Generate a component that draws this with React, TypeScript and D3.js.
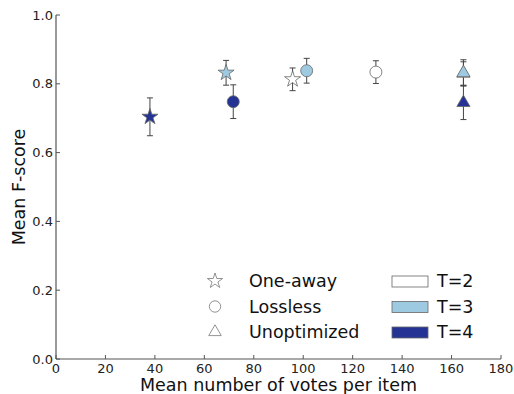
import * as d3 from "d3";

const tLabels = ["T=2", "T=3", "T=4"];
const tColors = ["#ffffff", "#9ecae1", "#253494"];
const methods = ["One-away", "Lossless", "Unoptimized"];

// one entry per point
const pointMethod = ["One-away", "One-away", "One-away", "Lossless", "Lossless", "Lossless", "Unoptimized", "Unoptimized", "Unoptimized"];
const pointT = ["T=2", "T=3", "T=4", "T=2", "T=3", "T=4", "T=2", "T=3", "T=4"];
const meanVotes = [95.7, 68.8, 38.0, 129.4, 101.4, 71.7, 164.8, 164.8, 164.8];
const meanF = [0.813, 0.832, 0.704, 0.834, 0.838, 0.748, 0.83, 0.832, 0.745];
const fErr = [0.033, 0.036, 0.055, 0.033, 0.036, 0.049, 0.034, 0.038, 0.049];

const xTicks = [0, 20, 40, 60, 80, 100, 120, 140, 160, 180];
const yTicks = [0, 0.2, 0.4, 0.6, 0.8, 1.0];

const W = 514;
const H = 394;
const margin = { top: 15, right: 13, bottom: 35, left: 56 };
const font = "DejaVu Sans, sans-serif";
const axisColor = "#555";

const symbolFor = (m: string) =>
  m === "One-away" ? d3.symbolStar : m === "Lossless" ? d3.symbolCircle : d3.symbolTriangle;
const sizeFor = (m: string) => (m === "One-away" ? 80 : m === "Lossless" ? 113 : 75);

export default function App() {
  const x = d3.scaleLinear().domain([0, 180]).range([margin.left, W - margin.right]);
  const y = d3.scaleLinear().domain([0, 1]).range([H - margin.bottom, margin.top]);
  const color = d3.scaleOrdinal<string, string>().domain(tLabels).range(tColors);

  const points = meanVotes.map((v, i) => ({
    m: pointMethod[i],
    t: pointT[i],
    v,
    f: meanF[i],
    e: fErr[i],
  }));

  const legendY = d3.scalePoint().domain(methods).range([281, 332]);

  return (
    <svg width={W} height={H} style={{ position: "absolute", left: 0, top: 0, background: "#fff" }} fontFamily={font}>
      {/* axes */}
      <line x1={x(0)} x2={x(0)} y1={y(0)} y2={y(1)} stroke={axisColor} strokeWidth={1.2} />
      <line x1={x(0)} x2={x(180)} y1={y(0)} y2={y(0)} stroke={axisColor} strokeWidth={1.2} />
      {xTicks.map((t) => (
        <g key={"x" + t}>
          <line x1={x(t)} x2={x(t)} y1={y(0)} y2={y(0) - 4} stroke={axisColor} />
          <text x={x(t)} y={y(0) + 14} textAnchor="middle" fontSize={13} fill="#222">
            {t}
          </text>
        </g>
      ))}
      {yTicks.map((t) => (
        <g key={"y" + t}>
          <line x1={x(0)} x2={x(0) + 4} y1={y(t)} y2={y(t)} stroke={axisColor} />
          <text x={x(0) - 3} y={y(t) + 4.5} textAnchor="end" fontSize={13} fill="#222">
            {t.toFixed(1)}
          </text>
        </g>
      ))}
      <text x={(x(0) + x(180)) / 2} y={391} textAnchor="middle" fontSize={17.5} fill="#111">
        Mean number of votes per item
      </text>
      <text transform={`translate(25,${(y(0) + y(1)) / 2}) rotate(-90)`} textAnchor="middle" fontSize={17.5} fill="#111">
        Mean F-score
      </text>

      {/* error bars */}
      {points.map((p, i) => (
        <g key={"e" + i} stroke="#444" strokeWidth={1}>
          <line x1={x(p.v)} x2={x(p.v)} y1={y(p.f - p.e)} y2={y(p.f + p.e)} />
          <line x1={x(p.v) - 3} x2={x(p.v) + 3} y1={y(p.f - p.e)} y2={y(p.f - p.e)} />
          <line x1={x(p.v) - 3} x2={x(p.v) + 3} y1={y(p.f + p.e)} y2={y(p.f + p.e)} />
        </g>
      ))}
      {/* markers */}
      {points.map((p, i) => (
        <path
          key={"p" + i}
          d={d3.symbol(symbolFor(p.m), sizeFor(p.m))() || ""}
          transform={`translate(${x(p.v)},${y(p.f)})`}
          fill={color(p.t)}
          stroke="#666"
          strokeWidth={0.8}
        />
      ))}

      {/* legend: methods */}
      {methods.map((m) => (
        <g key={"lm" + m}>
          <path
            d={d3.symbol(symbolFor(m), sizeFor(m) * 0.9)() || ""}
            transform={`translate(215,${legendY(m)})`}
            fill="#fff"
            stroke="#777"
            strokeWidth={0.8}
          />
          <text x={249} y={(legendY(m) || 0) + 6} fontSize={17.5} fill="#111">
            {m}
          </text>
        </g>
      ))}
      {/* legend: T */}
      {tLabels.map((t, i) => (
        <g key={"lt" + t}>
          <rect x={392} y={legendY(methods[i])! - 5} width={36} height={11} fill={color(t)} stroke="#666" strokeWidth={0.8} />
          <text x={437} y={(legendY(methods[i]) || 0) + 6} fontSize={17.5} fill="#111">
            {t}
          </text>
        </g>
      ))}
    </svg>
  );
}
